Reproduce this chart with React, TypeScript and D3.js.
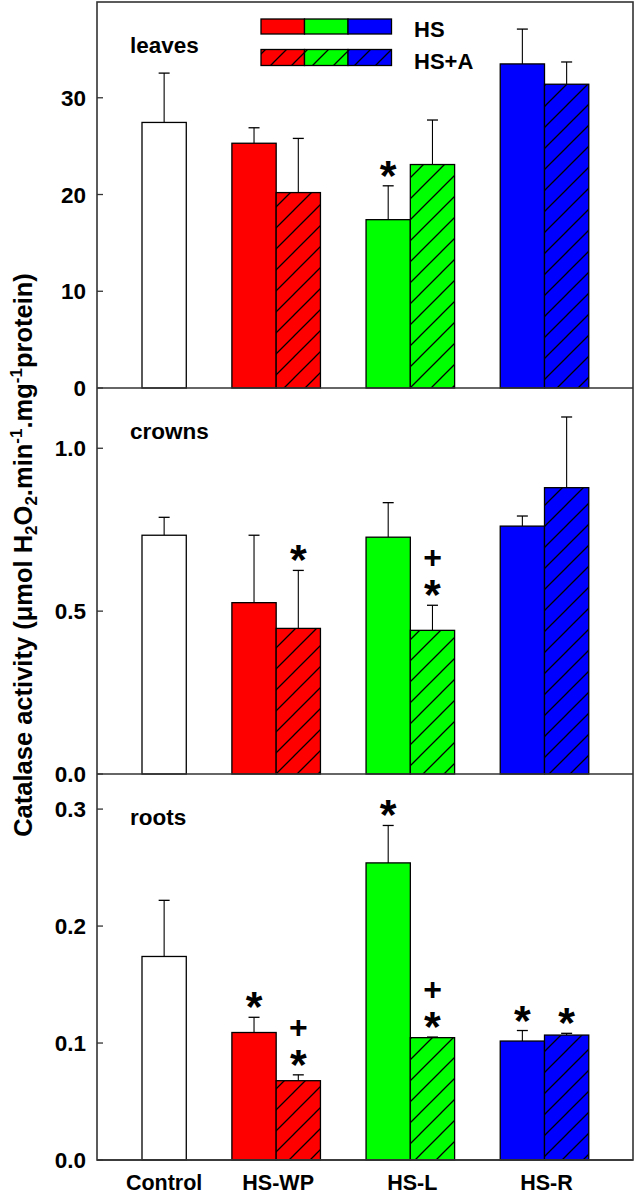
import React from "react";
import * as d3 from "d3";

const groups = ["Control", "HS-WP", "HS-L", "HS-R"];
const colors = ["#ff0000", "#00ff00", "#0000ff"];
const panelNames = ["leaves", "crowns", "roots"];
const legendLabels = ["HS", "HS+A"];

// control bar (one per panel)
const controlMean = [27.45, 0.733, 0.174];
const controlErr = [5.1, 0.055, 0.048];

// leaves
const leavesHS = [25.3, 17.4, 33.5];
const leavesHSErr = [1.6, 3.5, 3.6];
const leavesHSA = [20.2, 23.1, 31.4];
const leavesHSAErr = [5.6, 4.6, 2.3];
const leavesHSMarks = ["", "*", ""];
const leavesHSAMarks = ["", "", ""];

// crowns
const crownsHS = [0.526, 0.727, 0.761];
const crownsHSErr = [0.207, 0.106, 0.031];
const crownsHSA = [0.447, 0.441, 0.879];
const crownsHSAErr = [0.178, 0.077, 0.217];
const crownsHSMarks = ["", "", ""];
const crownsHSAMarks = ["*", "+*", ""];

// roots
const rootsHS = [0.109, 0.254, 0.1017];
const rootsHSErr = [0.013, 0.032, 0.009];
const rootsHSA = [0.0678, 0.1046, 0.1068];
const rootsHSAErr = [0.005, 0.0005, 0.0015];
const rootsHSMarks = ["*", "*", "*"];
const rootsHSAMarks = ["+*", "+*", "*"];

const leavesTicks = [0, 10, 20, 30];
const crownsTicks = [0, 0.5, 1.0];
const rootsTicks = [0, 0.1, 0.2, 0.3];
const yMax = [39.9, 1.185, 0.33];

const panels = [
  { hs: leavesHS, hsErr: leavesHSErr, hsa: leavesHSA, hsaErr: leavesHSAErr, hsMarks: leavesHSMarks, hsaMarks: leavesHSAMarks, ticks: leavesTicks, fmt: d3.format(".0f") },
  { hs: crownsHS, hsErr: crownsHSErr, hsa: crownsHSA, hsaErr: crownsHSAErr, hsMarks: crownsHSMarks, hsaMarks: crownsHSAMarks, ticks: crownsTicks, fmt: d3.format(".1f") },
  { hs: rootsHS, hsErr: rootsHSErr, hsa: rootsHSA, hsaErr: rootsHSAErr, hsMarks: rootsHSMarks, hsaMarks: rootsHSAMarks, ticks: rootsTicks, fmt: d3.format(".1f") },
];

const W = 636;
const H = 1196;
const left = 97;
const right = 633;
const top0 = 2;
const panelH = 386;
const font = "'Liberation Sans', Arial, sans-serif";

const x = d3.scaleLinear().domain([0, 3]).range([142, 544.5]);
const bw = (x(1) - x(0)) * 0.33;

// significance marks: "*" sits just above the error cap, "+" above the "*"
function Marks({ cx, yTop, marks }: { cx: number; yTop: number; marks: string }) {
  const chars = marks.split("").reverse();
  return (
    <text textAnchor="middle" fontWeight="bold" fontFamily={font}>
      {chars.map((c, k) => {
        const cy = yTop - 21 - k * 27;
        return c === "*" ? (
          <tspan key={k} x={cx} y={cy + 25} fontSize={43}>*</tspan>
        ) : (
          <tspan key={k} x={cx} y={cy + 11} fontSize={32}>+</tspan>
        );
      })}
    </text>
  );
}

function Bar({ x0, v, e, y, fill, marks }: any) {
  const cx = x0 + bw / 2;
  const yTop = y(v + e);
  return (
    <g>
      <line x1={cx} x2={cx} y1={y(v)} y2={yTop} stroke="#000" strokeWidth={1.1} />
      <line x1={cx - 5.5} x2={cx + 5.5} y1={yTop} y2={yTop} stroke="#000" strokeWidth={1.3} />
      <rect x={x0} y={y(v)} width={bw} height={y(0) - y(v)} fill={fill} stroke="#000" strokeWidth={1.3} />
      {marks ? <Marks cx={cx} yTop={yTop} marks={marks} /> : null}
    </g>
  );
}

export default function App() {
  return (
    <svg width={W} height={H} style={{ position: "absolute", left: 0, top: 0, background: "#fff" }}>
      <defs>
        {colors.map((c, i) => (
          <pattern key={i} id={"hatch" + i} patternUnits="userSpaceOnUse" width={21} height={21}>
            <rect width={21} height={21} fill={c} />
            <path d="M-2,2 L2,-2 M0,21 L21,0 M19,23 L23,19" stroke="#000" strokeWidth={1.3} />
          </pattern>
        ))}
      </defs>
      {panels.map((p, pi) => {
        const top = top0 + pi * panelH;
        const bottom = top + panelH;
        const y = d3.scaleLinear().domain([0, yMax[pi]]).range([bottom, top]);
        return (
          <g key={pi}>
            <Bar x0={x(0)} v={controlMean[pi]} e={controlErr[pi]} y={y} fill="#fff" marks="" />
            {p.hs.map((v, i) => (
              <Bar key={"s" + i} x0={x(i + 1) - bw} v={v} e={p.hsErr[i]} y={y} fill={colors[i]} marks={p.hsMarks[i]} />
            ))}
            {p.hsa.map((v, i) => (
              <Bar key={"h" + i} x0={x(i + 1)} v={v} e={p.hsaErr[i]} y={y} fill={`url(#hatch${i})`} marks={p.hsaMarks[i]} />
            ))}
            {p.ticks.map((t) => (
              <g key={t}>
                <line x1={left} x2={left + 6} y1={y(t)} y2={y(t)} stroke="#333" strokeWidth={1.3} />
                <text x={left - 11} y={y(t) + 8} textAnchor="end" fontSize={22.5} fontWeight="bold" fontFamily={font}>{p.fmt(t)}</text>
              </g>
            ))}
            <text x={130} y={top + 51} fontSize={22.5} fontWeight="bold" fontFamily={font}>{panelNames[pi]}</text>
            <line x1={left} x2={right} y1={bottom} y2={bottom} stroke="#333" strokeWidth={1.6} />
          </g>
        );
      })}
      <rect x={left} y={top0} width={right - left} height={panelH * 3} fill="none" stroke="#333" strokeWidth={1.6} />
      {/* legend */}
      {colors.map((c, i) => (
        <g key={i}>
          <rect x={261 + i * 43.5} y={19} width={43.5} height={15} fill={c} stroke="#000" strokeWidth={1.3} />
          <rect x={261 + i * 43.5} y={49.5} width={43.5} height={16} fill={`url(#hatch${i})`} stroke="#000" strokeWidth={1.3} />
        </g>
      ))}
      {legendLabels.map((l, i) => (
        <text key={l} x={414} y={36.5 + i * 32} fontSize={22} fontWeight="bold" fontFamily={font}>{l}</text>
      ))}
      {/* x labels */}
      {groups.map((g, i) => (
        <text key={g} x={i === 0 ? x(0) + bw / 2 : x(i) + 2} y={1190} textAnchor="middle" fontSize={21.5} fontWeight="bold" fontFamily={font}>{g}</text>
      ))}
      {/* y label */}
      <text transform="rotate(-90)" x={-555} y={32} textAnchor="middle" fontSize={25.5} fontWeight="bold" fontFamily={font}>
        Catalase activity (μmol H<tspan dy={5} fontSize={17}>2</tspan><tspan dy={-5}>O</tspan><tspan dy={5} fontSize={17}>2</tspan><tspan dy={-5}>.min</tspan><tspan dy={-10} fontSize={17}>-1</tspan><tspan dy={10}>.mg</tspan><tspan dy={-10} fontSize={17}>-1</tspan><tspan dy={10}>protein)</tspan>
      </text>
    </svg>
  );
}
